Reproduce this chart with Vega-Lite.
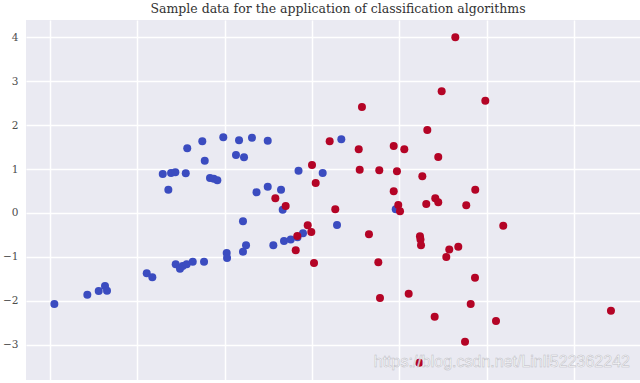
{
  "$schema": "https://vega.github.io/schema/vega-lite/v6.json",
  "width": 614,
  "height": 360,
  "autosize": {"type": "none"},
  "padding": {"left": 26, "top": 20, "right": 0, "bottom": 3},
  "background": "white",
  "title": {
    "text": "Sample data for the application of classification algorithms",
    "font": "DejaVu Serif",
    "fontSize": 12.5,
    "fontWeight": "normal",
    "color": "#333333",
    "anchor": "middle",
    "dx": 5,
    "offset": 5
  },
  "config": {
    "view": {"fill": "#eaeaf2", "stroke": null},
    "axis": {"gridColor": "white", "gridWidth": 1.5, "domain": false, "ticks": false}
  },
  "layer": [
    {
      "data": {
        "values": [
          {"x": -2.945, "y": -2.073, "cls": 0},
          {"x": -2.568, "y": -1.861, "cls": 0},
          {"x": -2.438, "y": -1.777, "cls": 0},
          {"x": -2.366, "y": -1.663, "cls": 0},
          {"x": -2.343, "y": -1.770, "cls": 0},
          {"x": -1.889, "y": -1.374, "cls": 0},
          {"x": -1.825, "y": -1.465, "cls": 0},
          {"x": -1.558, "y": -1.169, "cls": 0},
          {"x": -1.509, "y": -1.269, "cls": 0},
          {"x": -1.478, "y": -1.207, "cls": 0},
          {"x": -1.432, "y": -1.169, "cls": 0},
          {"x": -1.363, "y": -1.109, "cls": 0},
          {"x": -1.234, "y": -1.109, "cls": 0},
          {"x": -0.975, "y": -0.911, "cls": 0},
          {"x": -0.971, "y": -1.025, "cls": 0},
          {"x": -0.789, "y": -0.882, "cls": 0},
          {"x": -0.754, "y": -0.736, "cls": 0},
          {"x": -0.789, "y": -0.189, "cls": 0},
          {"x": -0.442, "y": -0.736, "cls": 0},
          {"x": -0.320, "y": -0.638, "cls": 0},
          {"x": -0.243, "y": -0.604, "cls": 0},
          {"x": -0.166, "y": -0.551, "cls": 0},
          {"x": -0.103, "y": -0.462, "cls": 0},
          {"x": -0.335, "y": 0.075, "cls": 0},
          {"x": -0.634, "y": 0.472, "cls": 0},
          {"x": -0.506, "y": 0.599, "cls": 0},
          {"x": -0.354, "y": 0.531, "cls": 0},
          {"x": -0.154, "y": 0.964, "cls": 0},
          {"x": 0.122, "y": 0.911, "cls": 0},
          {"x": 0.286, "y": -0.273, "cls": 0},
          {"x": 0.335, "y": 1.679, "cls": 0},
          {"x": 0.957, "y": 0.084, "cls": 0},
          {"x": -1.706, "y": 0.888, "cls": 0},
          {"x": -1.611, "y": 0.911, "cls": 0},
          {"x": -1.562, "y": 0.929, "cls": 0},
          {"x": -1.443, "y": 0.904, "cls": 0},
          {"x": -1.642, "y": 0.531, "cls": 0},
          {"x": -1.426, "y": 1.474, "cls": 0},
          {"x": -1.254, "y": 1.633, "cls": 0},
          {"x": -1.226, "y": 1.189, "cls": 0},
          {"x": -1.166, "y": 0.797, "cls": 0},
          {"x": -1.123, "y": 0.781, "cls": 0},
          {"x": -1.082, "y": 0.745, "cls": 0},
          {"x": -1.014, "y": 1.727, "cls": 0},
          {"x": -0.869, "y": 1.321, "cls": 0},
          {"x": -0.834, "y": 1.656, "cls": 0},
          {"x": -0.777, "y": 1.269, "cls": 0},
          {"x": -0.686, "y": 1.713, "cls": 0},
          {"x": -0.506, "y": 1.647, "cls": 0},
          {"x": 0.000, "y": 1.093, "cls": 1},
          {"x": 0.042, "y": 0.683, "cls": 1},
          {"x": -0.419, "y": 0.335, "cls": 1},
          {"x": -0.301, "y": 0.159, "cls": 1},
          {"x": -0.168, "y": -0.524, "cls": 1},
          {"x": -0.186, "y": -0.850, "cls": 1},
          {"x": -0.049, "y": -0.280, "cls": 1},
          {"x": -0.008, "y": -0.433, "cls": 1},
          {"x": 0.023, "y": -1.139, "cls": 1},
          {"x": 0.202, "y": 1.633, "cls": 1},
          {"x": 0.266, "y": 0.084, "cls": 1},
          {"x": 0.534, "y": 1.451, "cls": 1},
          {"x": 0.571, "y": 2.415, "cls": 1},
          {"x": 0.545, "y": 0.986, "cls": 1},
          {"x": 0.769, "y": 0.973, "cls": 1},
          {"x": 0.651, "y": -0.485, "cls": 1},
          {"x": 0.758, "y": -1.123, "cls": 1},
          {"x": 0.777, "y": -1.936, "cls": 1},
          {"x": 0.934, "y": 1.526, "cls": 1},
          {"x": 1.055, "y": 1.451, "cls": 1},
          {"x": 0.971, "y": 0.950, "cls": 1},
          {"x": 0.934, "y": 0.494, "cls": 1},
          {"x": 0.986, "y": 0.182, "cls": 1},
          {"x": 1.006, "y": 0.039, "cls": 1},
          {"x": 1.105, "y": -1.838, "cls": 1},
          {"x": 1.226, "y": -3.410, "cls": 1},
          {"x": 1.234, "y": -0.531, "cls": 1},
          {"x": 1.240, "y": -0.604, "cls": 1},
          {"x": 1.246, "y": -0.736, "cls": 1},
          {"x": 1.261, "y": 0.836, "cls": 1},
          {"x": 1.306, "y": 0.205, "cls": 1},
          {"x": 1.318, "y": 1.891, "cls": 1},
          {"x": 1.402, "y": -2.362, "cls": 1},
          {"x": 1.409, "y": 0.335, "cls": 1},
          {"x": 1.443, "y": 0.244, "cls": 1},
          {"x": 1.443, "y": 1.276, "cls": 1},
          {"x": 1.482, "y": 2.772, "cls": 1},
          {"x": 1.535, "y": -1.002, "cls": 1},
          {"x": 1.569, "y": -0.831, "cls": 1},
          {"x": 1.638, "y": 4.002, "cls": 1},
          {"x": 1.672, "y": -0.768, "cls": 1},
          {"x": 1.749, "y": -2.932, "cls": 1},
          {"x": 1.763, "y": 0.175, "cls": 1},
          {"x": 1.814, "y": -2.073, "cls": 1},
          {"x": 1.866, "y": 0.531, "cls": 1},
          {"x": 1.863, "y": -1.474, "cls": 1},
          {"x": 1.981, "y": 2.558, "cls": 1},
          {"x": 2.103, "y": -2.460, "cls": 1},
          {"x": 2.186, "y": -0.289, "cls": 1},
          {"x": 3.417, "y": -2.226, "cls": 1}
        ]
      },
      "mark": {"type": "point", "filled": true, "size": 64, "opacity": 1, "strokeWidth": 0},
      "encoding": {
        "x": {
          "field": "x", "type": "quantitative",
          "scale": {"domain": [-3.269, 3.749], "nice": false, "zero": false},
          "axis": {"values": [-3, -2, -1, 0, 1, 2, 3], "labels": false, "title": null}
        },
        "y": {
          "field": "y", "type": "quantitative",
          "scale": {"domain": [-3.804, 4.396], "nice": false, "zero": false},
          "axis": {
            "values": [-3, -2, -1, 0, 1, 2, 3, 4],
            "title": null,
            "labelFont": "DejaVu Serif",
            "labelFontSize": 10.5,
            "labelColor": "#4d4d4d",
            "labelPadding": 8
          }
        },
        "color": {
          "field": "cls", "type": "nominal",
          "scale": {"domain": [0, 1], "range": ["#3b4cc0", "#b40426"]},
          "legend": null
        }
      }
    },
    {
      "data": {"values": [{"wx": 2.17, "wy": -3.39, "label": "https://blog.csdn.net/Linli522362242"}]},
      "mark": {"type": "text", "font": "Liberation Sans", "fontSize": 16, "fill": "#ffffff", "opacity": 0.9, "stroke": "#b8b8c0", "strokeWidth": 0.5},
      "encoding": {
        "x": {"field": "wx", "type": "quantitative"},
        "y": {"field": "wy", "type": "quantitative"},
        "text": {"field": "label"}
      }
    }
  ]
}
